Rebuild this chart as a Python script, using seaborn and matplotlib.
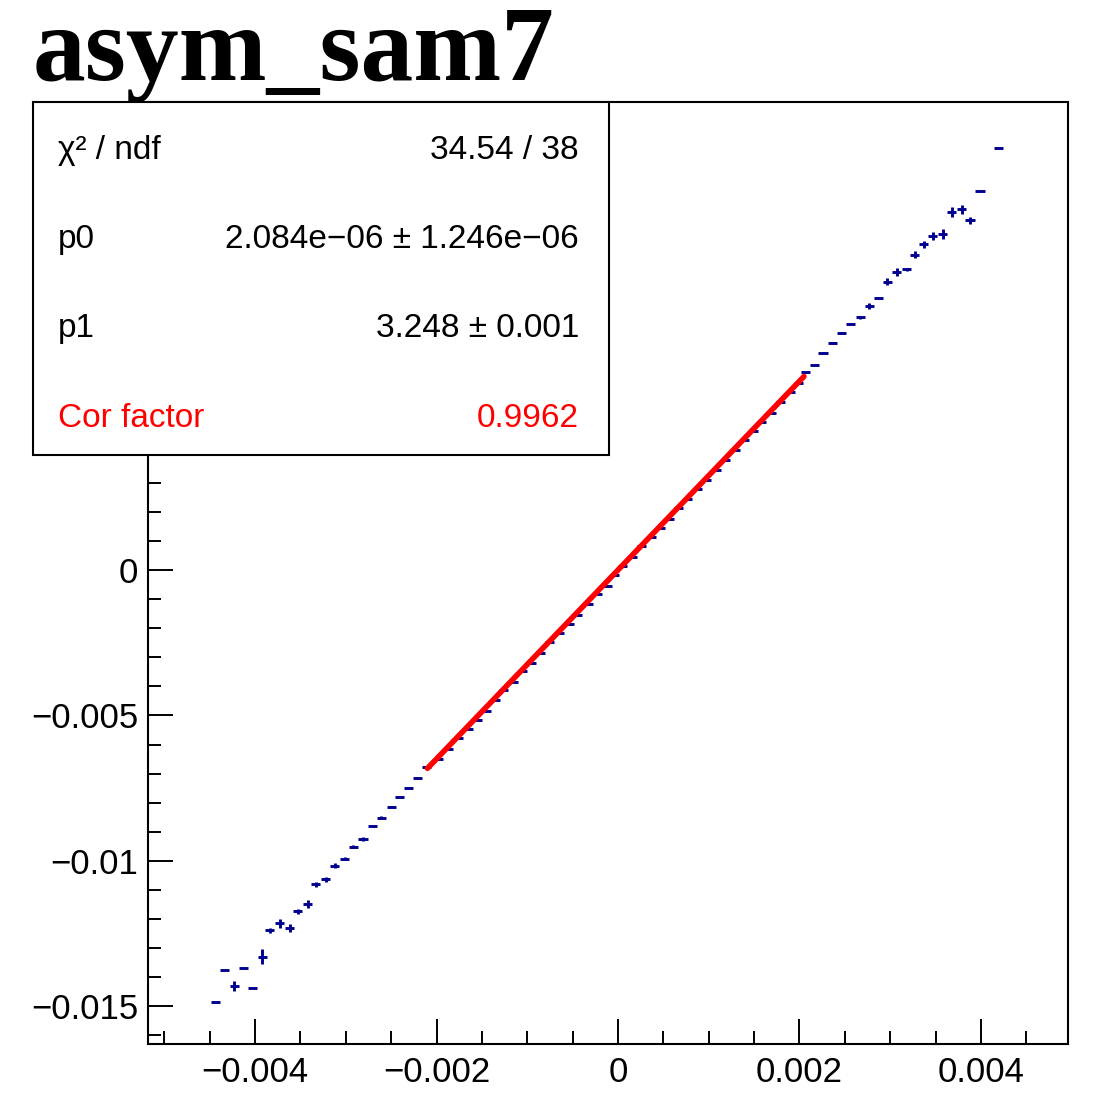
import numpy as np
import pandas as pd
import matplotlib
matplotlib.use("Agg")
import matplotlib.pyplot as plt
from matplotlib.patches import Rectangle
from matplotlib.ticker import MultipleLocator, FixedLocator
import seaborn as sns

# ---------------- data ----------------
title = "asym_sam7"

x_vals = [-0.00444, -0.00434, -0.00423, -0.00413, -0.00403, -0.00392, -0.00384, -0.00373,
          -0.00362, -0.00353, -0.00342, -0.00333, -0.00322, -0.00312, -0.00301, -0.00292,
          -0.00281, -0.00271, -0.00261, -0.00250, -0.00241, -0.00231, -0.00221, -0.00211,
          -0.00198, -0.00187, -0.00176, -0.00165, -0.00155, -0.00145, -0.00135, -0.00126,
          -0.00115, -0.00105, -0.00095, -0.00085, -0.00075, -0.00064, -0.00054, -0.00045,
          -0.00033, -0.00023, -0.00012, -0.00004, 0.00005, 0.00016, 0.00026, 0.00037,
          0.00047, 0.00057, 0.00067, 0.00077, 0.00088, 0.00098, 0.00108, 0.00119,
          0.00129, 0.00139, 0.00149, 0.00158, 0.00169, 0.00179, 0.00190, 0.00199,
          0.00207, 0.00217, 0.00226, 0.00236, 0.00246, 0.00256, 0.00267, 0.00277,
          0.00287, 0.00297, 0.00307, 0.00318, 0.00327, 0.00337, 0.00347, 0.00358,
          0.00368, 0.00379, 0.00388, 0.00399, 0.00419]

y_vals = [-0.01485, -0.01374, -0.01431, -0.01367, -0.01439, -0.01330, -0.01239, -0.01215,
          -0.01231, -0.01173, -0.01147, -0.01081, -0.01064, -0.01017, -0.00992, -0.00952,
          -0.00925, -0.00881, -0.00851, -0.00816, -0.00780, -0.00751, -0.00715, -0.00677,
          -0.00650, -0.00615, -0.00577, -0.00548, -0.00514, -0.00485, -0.00448, -0.00413,
          -0.00384, -0.00347, -0.00320, -0.00285, -0.00248, -0.00216, -0.00184, -0.00155,
          -0.00118, -0.00081, -0.00054, -0.00018, 0.00014, 0.00046, 0.00084, 0.00113,
          0.00146, 0.00175, 0.00212, 0.00243, 0.00278, 0.00310, 0.00344, 0.00378,
          0.00413, 0.00447, 0.00479, 0.00509, 0.00542, 0.00578, 0.00611, 0.00644,
          0.00680, 0.00707, 0.00745, 0.00780, 0.00816, 0.00846, 0.00869, 0.00909,
          0.00937, 0.00992, 0.01026, 0.01035, 0.01084, 0.01121, 0.01149, 0.01155,
          0.01233, 0.01241, 0.01204, 0.01304, 0.01452]

x_errs = [0.00005] * len(x_vals)

y_errs = [0.0, 0.0, 0.00017, 0.0, 0.0, 0.00026, 0.00008, 0.00015,
          0.00014, 0.00009, 0.00014, 0.00008, 0.00010, 0.00008, 0.00005, 0.00005,
          0.00007, 0.00002, 0.00004, 0.0, 0.0, 0.0, 0.0, 0.0,
          0.00002, 0.00002, 0.00002, 0.00002, 0.00002, 0.00002, 0.00002, 0.00002,
          0.00002, 0.00002, 0.00002, 0.00002, 0.00002, 0.00002, 0.00002, 0.00002,
          0.00002, 0.00002, 0.00002, 0.00002, 0.00002, 0.00002, 0.00002, 0.00002,
          0.00002, 0.00002, 0.00002, 0.00002, 0.00002, 0.00002, 0.00002, 0.00002,
          0.00002, 0.00002, 0.00002, 0.00002, 0.00002, 0.00002, 0.00002, 0.00002,
          0.0, 0.0, 0.0, 0.00004, 0.00004, 0.00004, 0.00004, 0.00010,
          0.00004, 0.00012, 0.00014, 0.00005, 0.00012, 0.00012, 0.00014, 0.00017,
          0.00017, 0.00015, 0.00012, 0.0, 0.0]

fit_range = [-0.0021, 0.00205]
p0 = 2.084e-06
p1 = 3.248

stats_labels = ["\u03c7\u00b2 / ndf", "p0", "p1", "Cor factor"]
stats_values = ["34.54 / 38", "2.084e\u221206 \u00b1 1.246e\u221206", "3.248 \u00b1 0.001", "0.9962"]
stats_colors = ["black", "black", "black", "red"]

x_ticks = [-0.004, -0.002, 0.0, 0.002, 0.004]
x_tick_labels = ["\u22120.004", "\u22120.002", "0", "0.002", "0.004"]
y_ticks = [-0.015, -0.01, -0.005, 0.0]
y_tick_labels = ["\u22120.015", "\u22120.01", "\u22120.005", "0"]

# ---------------- style ----------------
sns.set_style("ticks")
plt.rcParams['font.family'] = ['Liberation Sans', 'DejaVu Sans']
plt.rcParams['text.color'] = 'black'

W, H = 1120, 1112
fig = plt.figure(figsize=(W / 100, H / 100), dpi=100)
fig.patch.set_facecolor("white")

def fx(px):
    return px / W

def fy(py):
    return 1 - py / H

ax_left, ax_right, ax_top, ax_bottom = 148, 1068, 102, 1044
ax = fig.add_axes([fx(ax_left), fy(ax_bottom), (ax_right - ax_left) / W, (ax_bottom - ax_top) / H])
ax.set_facecolor("white")

# data points with error bars
ax.errorbar(x_vals, y_vals, xerr=x_errs, yerr=y_errs, fmt='none',
            ecolor='#000090', elinewidth=2.1, capsize=0, zorder=2)

# fit line
fit_x = np.array(fit_range)
fit_df = pd.DataFrame({"x": fit_x, "y": p0 + p1 * fit_x})
sns.lineplot(data=fit_df, x="x", y="y", color="red", linewidth=4.0, ax=ax, zorder=3)

ax.set_xlim(-0.00518, 0.00496)
ax.set_ylim(-0.0163, 0.0161)
ax.set_xlabel("")
ax.set_ylabel("")

ax.xaxis.set_major_locator(FixedLocator(x_ticks))
ax.set_xticklabels(x_tick_labels)
ax.yaxis.set_major_locator(FixedLocator(y_ticks))
ax.set_yticklabels(y_tick_labels)
ax.xaxis.set_minor_locator(MultipleLocator(0.0005))
ax.yaxis.set_minor_locator(MultipleLocator(0.001))

ax.tick_params(axis='both', which='both', direction='in', top=False, right=False,
               width=1.4, colors='black')
ax.tick_params(axis='both', which='major', length=18, labelsize=25)
ax.tick_params(axis='both', which='minor', length=9.5)
ax.tick_params(axis='x', which='major', pad=9)
ax.tick_params(axis='y', which='major', pad=7)

for sp in ax.spines.values():
    sp.set_visible(True)
    sp.set_linewidth(1.5)
    sp.set_color('black')

# title
fig.text(fx(33), fy(80), title, fontsize=76, fontweight='bold', color='black',
         family=['Liberation Serif', 'DejaVu Serif'], ha='left', va='baseline')

# stats box
box = Rectangle((fx(33), fy(455)), (609 - 33) / W, (455 - 102) / H,
                transform=fig.transFigure, facecolor='white', edgecolor='black',
                linewidth=1.5, zorder=5)
fig.add_artist(box)

baselines = [159, 248, 337, 427]
for lab, val, col, bl in zip(stats_labels, stats_values, stats_colors, baselines):
    fig.text(fx(58), fy(bl), lab, fontsize=24, color=col, ha='left', va='baseline', zorder=6)
    fig.text(fx(579), fy(bl), val, fontsize=24, color=col, ha='right', va='baseline', zorder=6)

fig.savefig("out.png", dpi=100)
